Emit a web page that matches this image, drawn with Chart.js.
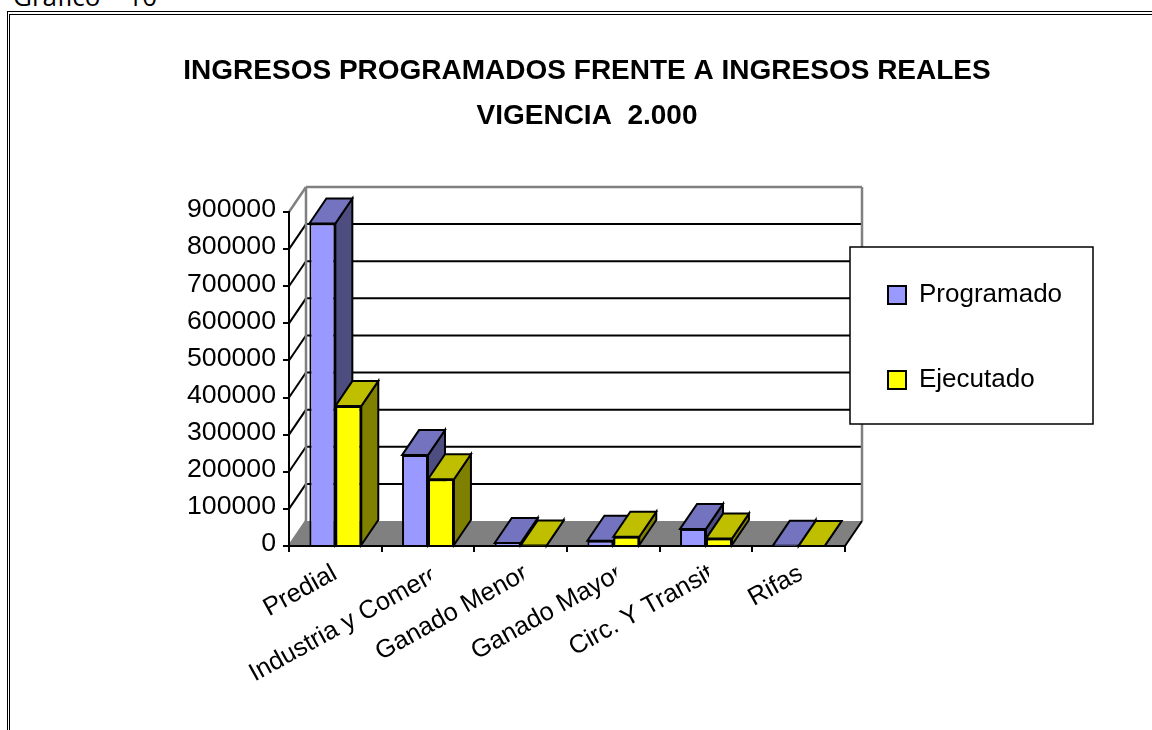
<!DOCTYPE html>
<html>
<head>
<meta charset="utf-8">
<title>Ingresos programados frente a ingresos reales</title>
<script src="https://cdn.jsdelivr.net/npm/chart.js@4"></script>
<style>
    html, body { margin: 0; width: 1152px; height: 730px; overflow: hidden; background: #fff; }
    #caption { position: absolute; left: 13px; top: -22px; font: 26px "Open Sans", sans-serif; white-space: pre; color: #000; }
    #frame { position: absolute; left: 7px; top: 11px; width: 1200px; height: 800px; border-style: double; border-color: #000; border-width: 4px 0 0 3px; }
    canvas { position: absolute; left: 0; top: 0; }
</style>
</head>
<body>
<div id="caption">Grafico    10</div>
<div id="frame"></div>
<canvas id="chart" width="1152" height="730"></canvas>
<script>
const titleLines = ['INGRESOS PROGRAMADOS FRENTE A INGRESOS REALES', 'VIGENCIA  2.000'];
const categories = ['Predial', 'Industria y Comerc', 'Ganado Menor', 'Ganado Mayor', 'Circ. Y Transit', 'Rifas'];
const programado = [869000, 245000, 8000, 14000, 46000, 500];
const ejecutado = [377000, 180000, 1500, 25000, 20000, 0];
const yMax = 900000;
const yStep = 100000;

const FONT = '"Liberation Sans", Arial, sans-serif';
const DEPTH_X = 17; // 3d offset of the back wall
const DEPTH_Y = -25;
const GRAY = '#808080';

// side and top shades of each series
const shades = [
    { top: '#7373BF', side: '#4D4D80' },
    { top: '#BFBF00', side: '#808000' }
];
// the tick text ends a bit right of the category centre
const labelShift = [3, 14, 9, 11, 9, 6];

function poly(ctx, pts, fill, stroke, width) {
    ctx.beginPath();
    pts.forEach(function(p, i) {
        if (i === 0) ctx.moveTo(p[0], p[1]); else ctx.lineTo(p[0], p[1]);
    });
    ctx.closePath();
    if (fill) { ctx.fillStyle = fill; ctx.fill(); }
    if (stroke) { ctx.strokeStyle = stroke; ctx.lineWidth = width; ctx.stroke(); }
}

function line(ctx, x1, y1, x2, y2, color, width) {
    ctx.beginPath();
    ctx.moveTo(x1, y1);
    ctx.lineTo(x2, y2);
    ctx.strokeStyle = color;
    ctx.lineWidth = width;
    ctx.stroke();
}

const box3d = {
    id: 'box3d',
    afterLayout(chart) {
        // legend sits in a fixed box right of the plot
        const legend = chart.legend;
        legend.left = 829;
        legend.right = 1092;
        legend.top = 223;
        legend.bottom = 520;
        // title is centred on the whole picture, not on the plot
        chart.titleBlock.left = 22;
        chart.titleBlock.right = 1152;
    },
    beforeDraw(chart) {
        const ctx = chart.ctx;
        const area = chart.chartArea;
        const y = chart.scales.y;
        const yTop = y.getPixelForValue(yMax);
        const yBase = y.getPixelForValue(0);

        // floor
        poly(ctx, [[area.left, yBase], [area.left + DEPTH_X, yBase + DEPTH_Y], [area.right + DEPTH_X, yBase + DEPTH_Y], [area.right, yBase]], GRAY);

        // back wall gridlines, and their run down the left wall
        y.ticks.forEach(function(t) {
            const py = y.getPixelForValue(t.value);
            if (t.value > 0 && t.value < yMax) {
                line(ctx, area.left + DEPTH_X, py + DEPTH_Y, area.right + DEPTH_X, py + DEPTH_Y, '#000', 2);
                line(ctx, area.left, py, area.left + DEPTH_X, py + DEPTH_Y, '#000', 2);
            }
        });

        // wall outline
        line(ctx, area.left, yTop, area.left + DEPTH_X, yTop + DEPTH_Y, GRAY, 2.5);
        line(ctx, area.left, yBase, area.left + DEPTH_X, yBase + DEPTH_Y, GRAY, 2.5);
        line(ctx, area.left + DEPTH_X, yTop + DEPTH_Y, area.left + DEPTH_X, yBase + DEPTH_Y, GRAY, 2.5);
        line(ctx, area.left + DEPTH_X, yTop + DEPTH_Y, area.right + DEPTH_X, yTop + DEPTH_Y, GRAY, 2.5);
        line(ctx, area.right + DEPTH_X, yTop + DEPTH_Y, area.right + DEPTH_X, yBase + DEPTH_Y, GRAY, 2.5);
        line(ctx, area.right + DEPTH_X, yBase + DEPTH_Y, area.right, yBase, '#000', 2);

        // legend box goes over the wall
        poly(ctx, [[850, 247], [1093, 247], [1093, 424], [850, 424]], '#fff', '#000', 1.5);
    },
    beforeDatasetsDraw(chart) {
        const ctx = chart.ctx;
        const area = chart.chartArea;

        ctx.save();
        // bars: category by category so the second series overlaps the first one's side
        categories.forEach(function(c, i) {
            chart.data.datasets.forEach(function(ds, d) {
                const bar = chart.getDatasetMeta(d).data[i];
                const l = bar.x - bar.width / 2;
                const r = bar.x + bar.width / 2;
                poly(ctx, [[r, bar.y], [r + DEPTH_X, bar.y + DEPTH_Y], [r + DEPTH_X, bar.base + DEPTH_Y], [r, bar.base]], shades[d].side, '#000', 2);
                poly(ctx, [[l, bar.y], [l + DEPTH_X, bar.y + DEPTH_Y], [r + DEPTH_X, bar.y + DEPTH_Y], [r, bar.y]], shades[d].top, '#000', 2);
                bar.draw(ctx, area);
            });
        });

        // category labels, clipped just past the centre like the original
        const x = chart.scales.x;
        categories.forEach(function(c, i) {
            const px = x.getPixelForTick(i);
            ctx.save();
            ctx.beginPath();
            ctx.rect(0, 0, px + 3, 730);
            ctx.clip();
            ctx.translate(px + labelShift[i], 578);
            ctx.rotate(-29 * Math.PI / 180);
            ctx.font = '25.5px ' + FONT;
            ctx.fillStyle = '#000';
            ctx.textAlign = 'right';
            ctx.textBaseline = 'alphabetic';
            ctx.fillText(c, 0, 0);
            ctx.restore();
        });
        ctx.restore();
        return false;
    }
};

new Chart(document.getElementById('chart').getContext('2d'), {
    type: 'bar',
    data: {
        labels: categories,
        datasets: [
            { label: 'Programado', data: programado, backgroundColor: '#9999FF', borderColor: '#000', borderWidth: 2 },
            { label: 'Ejecutado', data: ejecutado, backgroundColor: '#FFFF00', borderColor: '#000', borderWidth: 2 }
        ]
    },
    options: {
        responsive: false,
        animation: false,
        barPercentage: 1,
        categoryPercentage: 0.56,
        layout: { padding: { left: 22, right: 307, top: 0, bottom: 0 } },
        scales: {
            x: {
                afterFit(scale) { scale.height = 184; },
                border: { color: '#000', width: 2 },
                grid: { drawOnChartArea: false, color: '#000', lineWidth: 2, tickLength: 6 },
                ticks: { display: false, autoSkip: false }
            },
            y: {
                min: 0,
                max: yMax,
                afterFit(scale) { scale.width = 267; },
                border: { color: '#000', width: 2 },
                grid: { drawOnChartArea: false, color: '#000', lineWidth: 2, tickLength: 6 },
                ticks: {
                    stepSize: yStep,
                    color: '#000',
                    padding: 7,
                    labelOffset: -2,
                    font: { family: FONT, size: 26.7 },
                    callback: function(value) { return String(value); }
                }
            }
        },
        plugins: {
            title: {
                display: true,
                text: titleLines,
                color: '#000',
                font: { family: FONT, size: 28, weight: 'bold', lineHeight: 1.607 },
                padding: { top: 49, bottom: 73 }
            },
            legend: {
                position: 'chartArea',
                align: 'start',
                labels: {
                    color: '#000',
                    boxWidth: 18,
                    boxHeight: 18,
                    padding: 59,
                    font: { family: FONT, size: 26 }
                }
            },
            tooltip: { enabled: false }
        }
    },
    plugins: [box3d]
});
</script>
</body>
</html>
